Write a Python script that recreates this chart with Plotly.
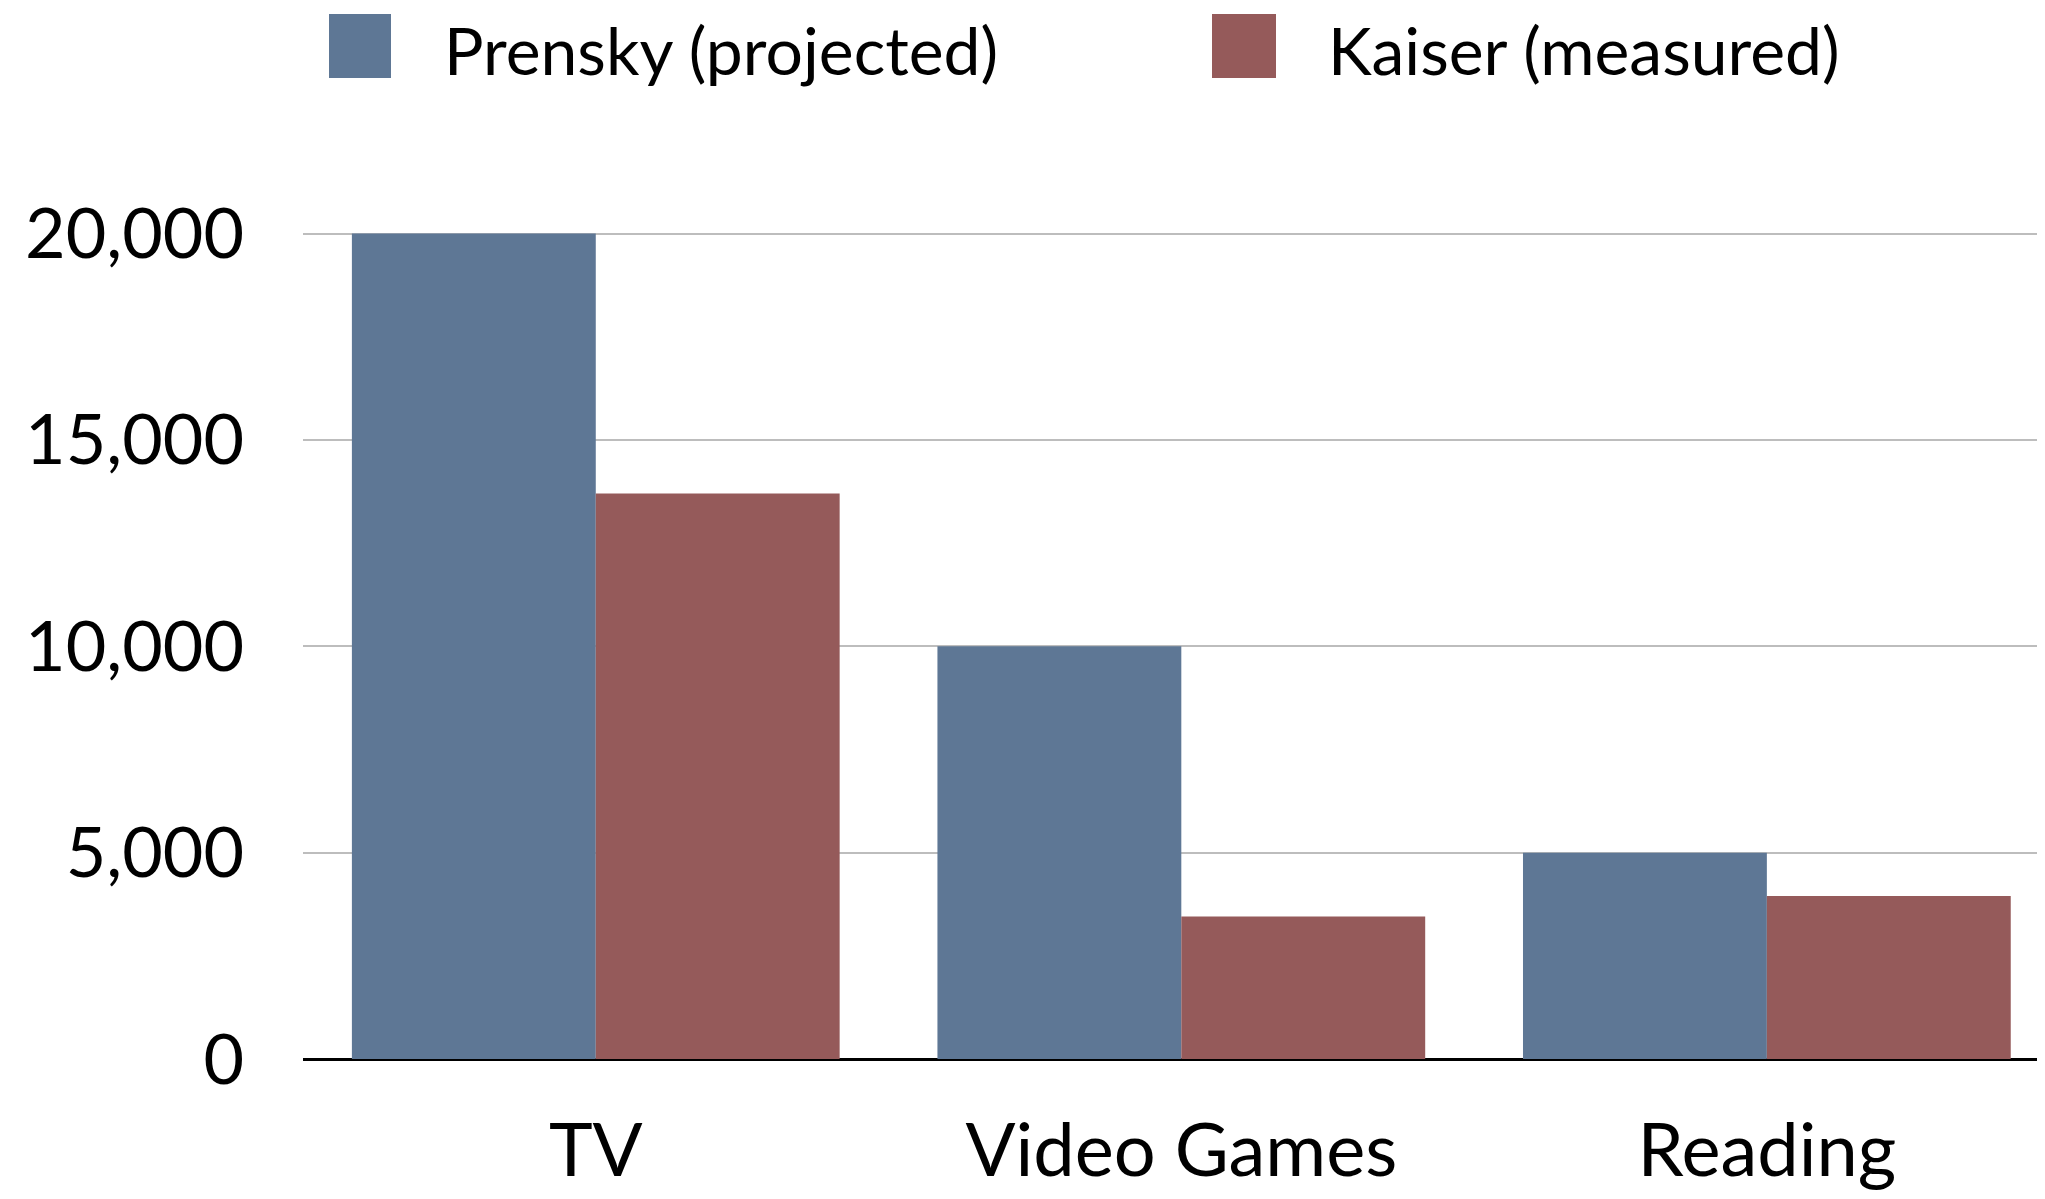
import plotly.graph_objects as go

categories = ["TV", "Video Games", "Reading"]
prensky = [20000, 10000, 5000]
kaiser = [13700, 3450, 3950]
series_names = ["Prensky (projected)", "Kaiser (measured)"]
tick_vals = [0, 5000, 10000, 15000, 20000]
tick_text = ["0", "5,000", "10,000", "15,000", "20,000"]

BLUE = "#5e7795"
RED = "#955a5a"
FONT = "Lato, 'Open Sans', sans-serif"

fig = go.Figure()
fig.add_trace(go.Bar(x=categories, y=prensky, name=series_names[0],
                     marker=dict(color=BLUE, line=dict(width=0)), showlegend=False))
fig.add_trace(go.Bar(x=categories, y=kaiser, name=series_names[1],
                     marker=dict(color=RED, line=dict(width=0)), showlegend=False))

OFF = 8  # page body margin
W, H = 2029, 1183
ml, mr, mt, mb = 303 - OFF, 0, 217 - OFF, 132

# custom large legend (page coordinates converted to paper coords)
legend_items = [(series_names[0], BLUE, 329, 391, 443), (series_names[1], RED, 1212, 1276, 1327)]
pw, ph = W - ml - mr, H - mt - mb
for name, col, x0, x1, tx in legend_items:
    fig.add_shape(type="rect", xref="paper", yref="paper",
                  x0=(x0 - OFF - ml) / pw, x1=(x1 - OFF - ml) / pw,
                  y0=1 + (mt - (78 - OFF)) / ph, y1=1 + (mt - (14 - OFF)) / ph,
                  fillcolor=col, line=dict(width=0))
    fig.add_annotation(xref="paper", yref="paper",
                       x=(tx - OFF - ml) / pw, y=1 + (mt - 1) / ph,
                       text=name, showarrow=False, xanchor="left", yanchor="top",
                       borderpad=0,
                       font=dict(family=FONT, size=66, color="black"))

span = 2.475 + 0.5 - 8 / 585.6
fig.update_layout(
    width=W, height=H,
    margin=dict(l=ml, r=mr, t=mt, b=mb, pad=0, autoexpand=False),
    paper_bgcolor="white", plot_bgcolor="white",
    barmode="group", bargap=0.167, bargroupgap=0,
    font=dict(family=FONT, size=70, color="black"),
    xaxis=dict(range=[-0.5, -0.5 + span], showgrid=False, showline=False, zeroline=False,
               automargin=False,
               ticks="", tickfont=dict(size=74), ticklabelstandoff=42),
    yaxis=dict(range=[0, 20400], tickvals=tick_vals, ticktext=tick_text,
               automargin=False,
               showgrid=True, gridcolor="#bdbdbd", gridwidth=2,
               zeroline=True, zerolinecolor="black", zerolinewidth=3,
               showline=False, ticks="", tickfont=dict(size=70), ticklabelstandoff=58),
)

fig.write_html("out.html")
